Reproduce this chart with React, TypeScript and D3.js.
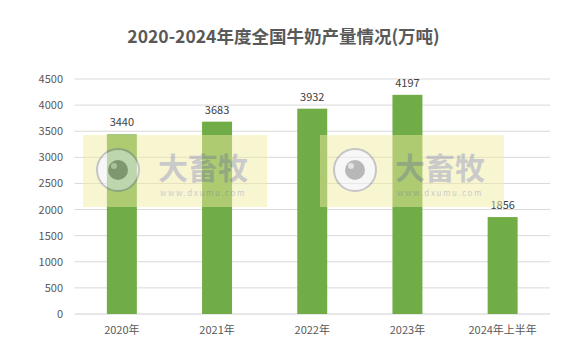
import React from "react";
import * as d3 from "d3";

const categories = ["2020年", "2021年", "2022年", "2023年", "2024年上半年"];
const values = [3440, 3683, 3932, 4197, 1856];
const yTicks = [0, 500, 1000, 1500, 2000, 2500, 3000, 3500, 4000, 4500];
const title = "2020-2024年度全国牛奶产量情况(万吨)";
const watermarkCenters = [175, 412];

const W = 576;
const H = 364;
const M = { left: 74.5, right: 26, top: 79, bottom: 50 };

export default function App() {
  const x = d3
    .scaleBand<string>()
    .domain(categories)
    .range([M.left, W - M.right])
    .paddingInner(0.685)
    .paddingOuter(0.34);
  const y = d3.scaleLinear().domain([0, 4500]).range([H - M.bottom, M.top]);
  const font = "'Noto Sans CJK SC', 'Open Sans', sans-serif";

  return (
    <svg
      width={W}
      height={H}
      style={{ position: "absolute", left: 0, top: 0, background: "#fff" }}
      fontFamily={font}
    >
      <rect width={W} height={H} fill="#fff" />
      <text
        x={283.5}
        y={43}
        textAnchor="middle"
        fontSize={17.5}
        fontWeight="bold"
        fill="#595959"
      >
        {title}
      </text>
      {yTicks.map((t) => (
        <g key={t}>
          <line
            x1={M.left}
            x2={W - M.right}
            y1={y(t)}
            y2={y(t)}
            stroke={t === 0 ? "#d0d0d0" : "#d9d9d9"}
            strokeWidth={1}
          />
          <text
            x={63}
            y={y(t) + 4}
            textAnchor="end"
            fontSize={11}
            fill="#595959"
          >
            {t}
          </text>
        </g>
      ))}
      {categories.map((c, i) => (
        <g key={c}>
          <rect
            x={x(c)!}
            y={y(values[i])}
            width={x.bandwidth()}
            height={y(0) - y(values[i])}
            fill="#70AD47"
          />
          <text
            x={x(c)! + x.bandwidth() / 2}
            y={y(values[i]) - 8}
            textAnchor="middle"
            fontSize={11}
            fill="#404040"
          >
            {values[i]}
          </text>
          <text
            x={x(c)! + x.bandwidth() / 2}
            y={334}
            textAnchor="middle"
            fontSize={11}
            fill="#595959"
          >
            {c}
          </text>
        </g>
      ))}
      {watermarkCenters.map((cx) => (
        <g key={cx} opacity={0.6}>
          <rect x={cx - 92} y={135} width={184} height={72} fill="#f3eca0" opacity={0.8} />
          <circle cx={cx - 57} cy={170} r={21} fill="#f2f2f2" stroke="#a0a0a0" strokeWidth={2} />
          <circle cx={cx - 57} cy={170} r={10} fill="#8a8a8a" />
          <circle cx={cx - 61} cy={166} r={3} fill="#d0d0d0" />
          <text x={cx + 28} y={179} textAnchor="middle" fontSize={30} fontWeight="bold" fill="#a8a8a8">
            大畜牧
          </text>
          <text x={cx + 28} y={196} textAnchor="middle" fontSize={8} fill="#a8a8a8" letterSpacing={1.6}>
            www.dxumu.com
          </text>
        </g>
      ))}
    </svg>
  );
}
